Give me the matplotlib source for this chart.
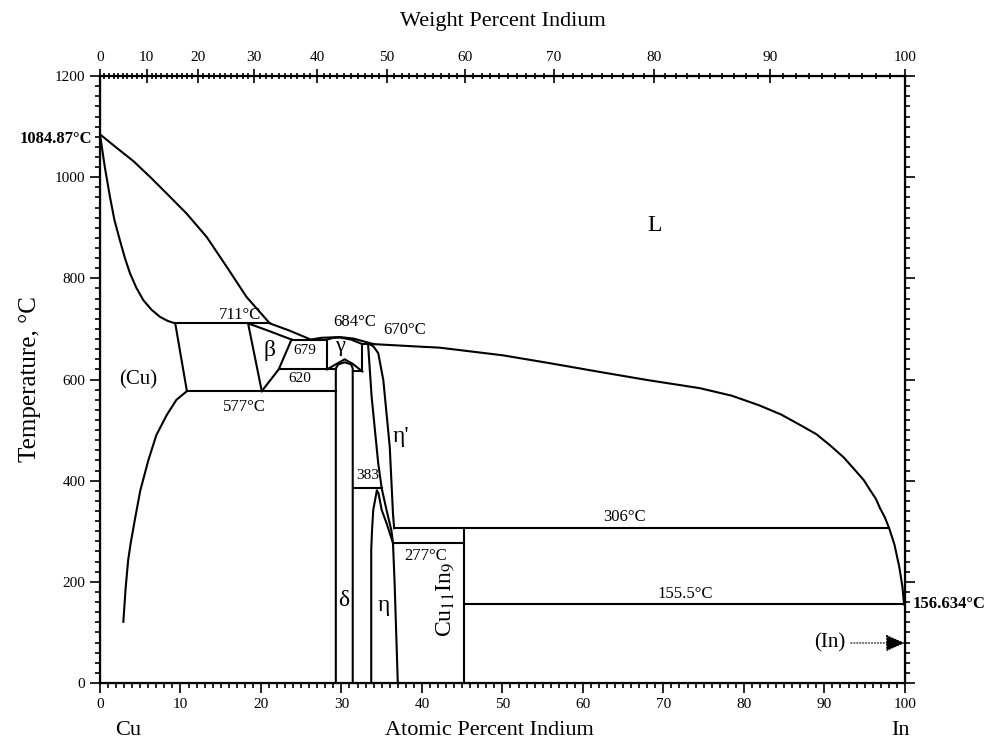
import numpy as np
import matplotlib
matplotlib.use('Agg')
import matplotlib.pyplot as plt

plt.rcParams['font.family'] = ['Liberation Serif', 'DejaVu Serif']
plt.rcParams['mathtext.fontset'] = 'stix'

# Cu-In phase diagram (at.% In, degC)
liq_x = [0, 2.0, 4.14, 6.2, 8.28, 10.77, 13.25, 15.74, 18.22, 21.1, 23.5, 26.2, 27.5, 29.8, 31.5, 34.0,
         39.75, 42.2, 50, 56, 62.1, 68, 74.5, 78.5, 81.9, 84.6, 87.0, 89.0, 90.7, 92.4, 93.8, 94.9,
         95.7, 96.4, 96.9, 97.5, 98.05, 98.7, 99.3, 99.7, 99.9]
liq_t = [1084.87, 1059, 1032, 1001, 968, 928, 882, 823, 763, 711, 697, 679, 682.5, 684, 681, 670,
         665, 663, 648, 632, 615, 599, 583, 568, 549, 531, 510, 492, 470, 446, 421, 401,
         381, 364, 346, 328, 306, 274, 230, 190, 156]

cu_sol_x = [0, 0.6, 1.24, 1.8, 2.48, 3.1, 3.73, 4.5, 5.38, 6.4, 7.45, 8.4, 9.35]
cu_sol_t = [1084.87, 1020, 961, 915, 875, 840, 810, 782, 757, 738, 724, 716, 711]

cu_solvus_x = [9.35, 10.8, 9.5, 8.3, 7.0, 6.0, 5.0, 4.3, 3.8, 3.5, 3.2, 2.9]
cu_solvus_t = [711, 577, 560, 530, 490, 440, 380, 320, 275, 243, 190, 121]

beta_sol_x = [18.4, 21.0, 23.8]
beta_sol_t = [711, 696, 679]
beta_left_x = [18.4, 20.1]
beta_left_t = [711, 577]
beta_right_x = [23.8, 22.2, 20.1]
beta_right_t = [679, 620, 577]

gam_top_x = [28.2, 29.0, 29.8, 31.2, 32.6]
gam_top_t = [679, 682.5, 683, 679, 670]
gam_bot_x = [28.2, 29.3, 30.4, 31.4, 32.6]
gam_bot_t = [620, 630, 640, 631, 616]

delta_x = [29.3, 29.3, 29.6, 30.4, 31.2, 31.4, 31.4]
delta_t = [0, 622, 630, 634, 630, 622, 0]

etap_left_x = [33.3, 33.75, 34.16, 34.57, 35.0, 35.6, 36.2, 36.4]
etap_left_t = [672, 566, 500, 434, 385, 342, 302, 277]
etap_right_x = [33.3, 34.0, 34.57, 35.2, 35.6, 36.0, 36.2, 36.4, 36.55]
etap_right_t = [672, 665, 652, 599, 533, 467, 401, 335, 306]

eta_x = [33.7, 33.7, 33.8, 33.95, 34.4, 34.6, 35.0, 35.6, 36.4, 36.6, 36.8, 37.0]
eta_t = [0, 263, 302, 342, 381, 375, 342, 316, 277, 200, 100, 0]

# isotherms: (x_start, x_end, T)
isotherms = [(9.35, 21.1, 711), (10.8, 29.3, 577), (23.8, 28.2, 679), (22.2, 29.3, 620),
             (32.6, 34.0, 670), (31.4, 32.6, 616), (31.4, 35.0, 385), (36.55, 98.05, 306),
             (36.4, 45.2, 277), (45.2, 99.9, 155.5)]
verticals = [(28.2, 620, 679), (32.6, 616, 670), (45.2, 0, 306)]

wt_ticks = [0, 10, 20, 30, 40, 50, 60, 70, 80, 90, 100]


def wt2at(w):
    w = np.asarray(w, dtype=float)
    a = w / 114.818
    b = (100 - w) / 63.546
    return 100 * a / (a + b)


fig = plt.figure(figsize=(9.9, 7.46), dpi=100)
ax = fig.add_axes([0.101, 0.0845, 0.813, 0.8135])
lw = 1.5
k = 'black'

for xs, ts in [(liq_x, liq_t), (cu_sol_x, cu_sol_t), (cu_solvus_x, cu_solvus_t),
               (beta_sol_x, beta_sol_t), (beta_left_x, beta_left_t), (beta_right_x, beta_right_t),
               (gam_top_x, gam_top_t), (gam_bot_x, gam_bot_t), (delta_x, delta_t),
               (etap_left_x, etap_left_t), (etap_right_x, etap_right_t), (eta_x, eta_t)]:
    ax.plot(xs, ts, color=k, lw=lw, solid_joinstyle='round')
for x0, x1, t in isotherms:
    ax.plot([x0, x1], [t, t], color=k, lw=lw)
for x, t0, t1 in verticals:
    ax.plot([x, x], [t0, t1], color=k, lw=lw)
ax.plot([99.9, 100], [155.5, 156.634], color=k, lw=lw)

ax.set_xlim(0, 100)
ax.set_ylim(0, 1200)
ax.set_xticks(range(0, 101, 10))
ax.set_xticks(range(0, 101), minor=True)
ax.set_yticks(range(0, 1201, 200))
ax.set_yticks(range(0, 1201, 20), minor=True)
ax.tick_params(which='both', direction='out', labelsize=11, width=1.2, right=True)
ax.tick_params(which='major', length=7)
ax.tick_params(which='minor', length=3.5)
for s in ax.spines.values():
    s.set_linewidth(1.6)

top = ax.twiny()
top.set_xlim(0, 100)
top.set_xticks(wt2at(wt_ticks))
top.set_xticklabels([str(w) for w in wt_ticks])
top.set_xticks(wt2at(np.arange(0, 101)), minor=True)
top.tick_params(which='both', direction='inout', labelsize=11, width=1.2)
top.tick_params(which='major', length=10)
top.tick_params(which='minor', length=5)
top.set_xlabel('Weight Percent Indium', fontsize=16, labelpad=18)

ax.set_ylabel('Temperature, °C', fontsize=18, labelpad=10)
ax.text(48.4, -0.078, 'Atomic Percent Indium', transform=ax.get_xaxis_transform(),
        ha='center', va='center', fontsize=16)
ax.text(3.5, -0.078, 'Cu', transform=ax.get_xaxis_transform(), ha='center', va='center', fontsize=16)
ax.text(99.4, -0.078, 'In', transform=ax.get_xaxis_transform(), ha='center', va='center', fontsize=16)

ax.text(-1.0, 1076, '1084.87°C', ha='right', va='center', fontsize=12, fontweight='bold')
ax.text(101.0, 156.634, '156.634°C', ha='left', va='center', fontsize=12, fontweight='bold')

labels = [
    (68.9, 905, 'L', 17), (4.7, 599, '(Cu)', 15), (17.4, 727, '711°C', 12), (18.0, 545, '577°C', 12),
    (21.1, 658, 'β', 17), (25.5, 658, '679', 11), (24.8, 603, '620', 11), (29.8, 666, 'γ', 16),
    (31.7, 713, '684°C', 12), (37.9, 698, '670°C', 12), (37.4, 488, "η'", 17), (33.2, 410, '383', 11),
    (65.2, 328, '306°C', 12), (40.4, 251, '277°C', 12), (72.7, 176, '155.5°C', 12),
    (30.3, 164, 'δ', 17), (35.3, 154, 'η', 17),
]
for x, t, s, fs in labels:
    ax.text(x, t, s, ha='center', va='center', fontsize=fs)
ax.text(42.9, 165, r'Cu$_{11}$In$_9$', rotation=90, ha='center', va='center', fontsize=17)
ax.annotate('(In)', xy=(100, 79), xytext=(92.6, 79), ha='right', va='center', fontsize=15,
            arrowprops=dict(arrowstyle='-|>,head_length=0.8,head_width=0.35', color=k, lw=0.8,
                            linestyle=':', shrinkA=2, shrinkB=0))

fig.savefig('out.png', dpi=100)
